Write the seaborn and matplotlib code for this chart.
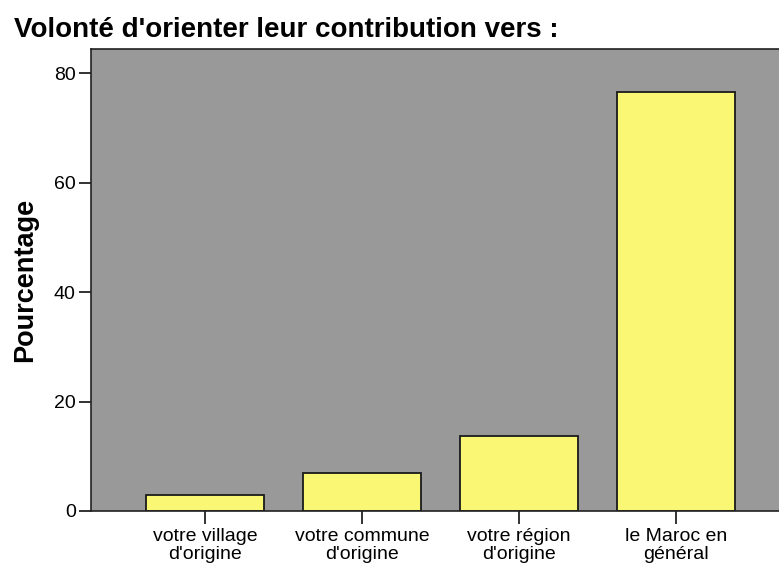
import matplotlib
matplotlib.use("Agg")
import matplotlib.pyplot as plt
import seaborn as sns
import pandas as pd

categories = ["votre village\nd'origine", "votre commune\nd'origine",
              "votre région\nd'origine", "le Maroc en\ngénéral"]
percentages = [2.9, 6.9, 13.7, 76.5]
yticks = [0, 20, 40, 60, 80]
title = "Volonté d'orienter leur contribution vers :"
ylabel = "Pourcentage"

df = pd.DataFrame({"cat": categories, "pct": percentages})

sns.set_theme(style="white")
plt.rcParams['font.family'] = ['Liberation Sans', 'DejaVu Sans']
plt.rcParams['text.color'] = 'black'

fig = plt.figure(figsize=(7.79, 5.66), dpi=100)
ax = fig.add_axes([0.1168, 0.0972, 0.8832, 0.8162])

sns.barplot(data=df, x="cat", y="pct", ax=ax, color="#FAF774",
            saturation=1, width=0.75, edgecolor="#1a1a1a", linewidth=1.3)

ax.set_facecolor("#999999")
ax.set_xlim(-0.726, 3.656)
ax.set_ylim(0, 84.4)
ax.set_yticks(yticks)
ax.set_yticklabels([str(t) for t in yticks])
for s in ax.spines.values():
    s.set_color("#222222")
    s.set_linewidth(1.2)
ax.spines["right"].set_visible(False)
ax.tick_params(axis="both", direction="out", length=9, width=1.3, color="#222222",
               labelsize=14, labelcolor="black", left=True, bottom=True, pad=2)
ax.tick_params(axis="x", pad=3)
for lbl in ax.get_xticklabels():
    lbl.set_linespacing(1.1)
ax.set_xlabel("")
ax.set_ylabel(ylabel, fontsize=19.5, fontweight="bold", color="black")
ax.yaxis.set_label_coords(-0.077, 0.5)
ax.grid(False)

fig.text(0.018, 0.947, title, fontsize=20, fontweight="bold", color="black",
         ha="left", va="center")

fig.savefig("out.png", dpi=100)
